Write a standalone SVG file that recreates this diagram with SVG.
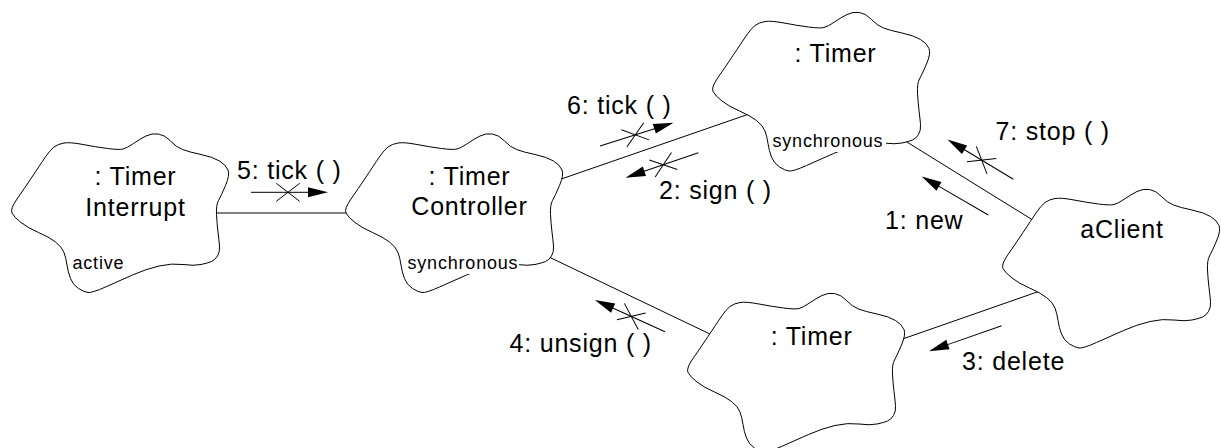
<svg xmlns="http://www.w3.org/2000/svg" xmlns:xlink="http://www.w3.org/1999/xlink" width="1221" height="448" viewBox="0 0 1221 448">
  <style>
    .cloud { fill: #ffffff; stroke: #000000; stroke-width: 1; }
    .link { fill: none; stroke: #000000; stroke-width: 1; }
    .lbl { font-family: "Liberation Sans", Arial, sans-serif; font-size: 25px; letter-spacing: 0.8px; fill: #000000; }
    .small { font-family: "Liberation Sans", Arial, sans-serif; font-size: 18px; letter-spacing: 0.8px; fill: #000000; }
    .mid { text-anchor: middle; }
    .bg { fill: #ffffff; stroke: none; }
  </style>
  <defs>
    <!-- Booch object cloud, local coordinates -->
    <path id="cloud" class="cloud" d="M2,83 Q0,79 7,69 T22,47 T35,27.5 T44,17 T54,13 T73,14.5 T97.5,18.5 T113,19 T123.5,13.5 T136,6 T148.5,4 T160.5,11 T172.5,19.5 T191,24.5 T209.5,31 T218,40 T215.5,55.5 T208.5,70.5 T206.5,84.5 T208,102 T209.5,116 T207.5,126 T201.5,131.5 T191,134.5 T173,134.5 T149,136 T122.5,145 T95.5,157 T78,162.5 T68.5,158.5 T60.5,148.5 T57,135 T54,122.5 T45.5,112 T28.5,102.5 T11,92.5 T2,83 Z"/>
    <!-- message arrow pointing along +x, tail at origin -->
    <g id="msg">
      <line x1="0" y1="0" x2="58" y2="0" stroke="#000" stroke-width="1"/>
      <polygon points="77,0 57,-5 57,5" fill="#000"/>
    </g>
    <!-- message arrow with synchronization cross -->
    <g id="msg-x">
      <use xlink:href="#msg"/>
      <path d="M25.3,-9 L48.7,9 M25.3,9 L48.7,-9" stroke="#000" stroke-width="1" fill="none"/>
    </g>
  </defs>

  <g id="connectors">
    <line class="link" x1="215" y1="213" x2="350" y2="213"/>
    <line class="link" x1="561" y1="179.1" x2="756" y2="111.6"/>
    <line class="link" x1="546" y1="255.6" x2="716" y2="336.9"/>
    <line class="link" x1="902" y1="139" x2="1034" y2="220.8"/>
    <line class="link" x1="1040" y1="291" x2="904" y2="338.5"/>

    <g id="messages">
      <use xlink:href="#msg-x" transform="translate(251,192.3)"/>
      <text class="lbl" x="237" y="178.5">5: tick ( )</text>

      <use xlink:href="#msg-x" transform="translate(600,146) rotate(-17.6)"/>
      <text class="lbl" x="567" y="113.5">6: tick ( )</text>

      <use xlink:href="#msg-x" transform="translate(698.3,152.7) rotate(161)"/>
      <text class="lbl" x="659" y="198.5">2: sign ( )</text>

      <use xlink:href="#msg-x" transform="translate(1013.3,179.3) rotate(-148.8)"/>
      <text class="lbl" x="995.5" y="139.5">7: stop ( )</text>

      <use xlink:href="#msg" transform="translate(988.3,215) rotate(-149.9)"/>
      <text class="lbl" x="885" y="228.5">1: new</text>

      <use xlink:href="#msg-x" transform="translate(665,331.7) rotate(-155.6)"/>
      <text class="lbl" x="509.5" y="351.5">4: unsign ( )</text>

      <use xlink:href="#msg" transform="translate(1001.7,325.7) rotate(160.7)"/>
      <text class="lbl" x="962" y="370">3: delete</text>
    </g>
  </g>

  <g id="timer-interrupt">
    <use xlink:href="#cloud" transform="translate(10,130)"/>
    <text class="lbl mid" x="135.5" y="185">: Timer</text>
    <text class="lbl mid" x="135.5" y="216">Interrupt</text>
    <text class="small" x="72.5" y="269.3">active</text>
  </g>

  <g id="timer-controller">
    <use xlink:href="#cloud" transform="translate(344,130)"/>
    <text class="lbl mid" x="469.5" y="185">: Timer</text>
    <text class="lbl mid" x="469.5" y="215">Controller</text>
    <rect class="bg" x="406" y="255" width="113" height="19"/>
    <text class="small" x="407.5" y="269.3">synchronous</text>
  </g>

  <g id="timer-top">
    <use xlink:href="#cloud" transform="translate(711,8.5)"/>
    <text class="lbl mid" x="835.5" y="62">: Timer</text>
    <rect class="bg" x="771" y="133" width="115" height="19"/>
    <text class="small" x="772.5" y="147">synchronous</text>
  </g>

  <g id="a-client">
    <use xlink:href="#cloud" transform="translate(1001,185.5)"/>
    <text class="lbl mid" x="1122" y="237.5">aClient</text>
  </g>

  <g id="timer-bottom">
    <use xlink:href="#cloud" transform="translate(686,289.5)"/>
    <text class="lbl mid" x="811.7" y="345">: Timer</text>
  </g>
</svg>
